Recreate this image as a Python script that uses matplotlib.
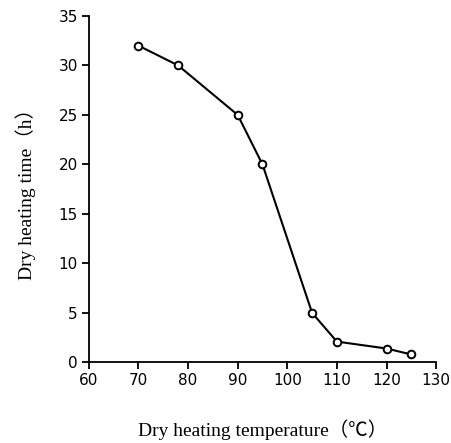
import matplotlib
matplotlib.use("Agg")
import matplotlib.pyplot as plt

# dry heating temperature (C) vs dry heating time (h)
temp = [70, 78, 90, 95, 105, 110, 120, 125]
hours = [32, 30, 25, 20, 5, 2.1, 1.4, 0.8]

xticks = [60, 70, 80, 90, 100, 110, 120, 130]
yticks = [0, 5, 10, 15, 20, 25, 30, 35]

fig = plt.figure(figsize=(4.51, 4.43), dpi=100)
ax = fig.add_axes([0.197, 0.182, 0.77, 0.782])

ax.plot(temp, hours, color="black", lw=1.5, marker="o", ms=5.5,
        mfc="white", mec="black", mew=1.4, clip_on=False, zorder=3)

ax.set_xlim(60, 130)
ax.set_ylim(0, 35)
ax.set_xticks(xticks)
ax.set_yticks(yticks)

for s in ["top", "right"]:
    ax.spines[s].set_visible(False)
for s in ["left", "bottom"]:
    ax.spines[s].set_linewidth(1.3)

ax.tick_params(direction="out", length=5, width=1.3, labelsize=11, pad=3)
for lab in ax.get_xticklabels() + ax.get_yticklabels():
    lab.set_family("DejaVu Sans")

serif = ["Liberation Serif", "Noto Sans CJK SC"]
ax.set_xlabel("Dry heating temperature（℃）", family=serif, fontsize=14, labelpad=22)
ax.set_ylabel("Dry heating time（h）", family=serif, fontsize=14, labelpad=16)

fig.savefig("out.png", dpi=100)
